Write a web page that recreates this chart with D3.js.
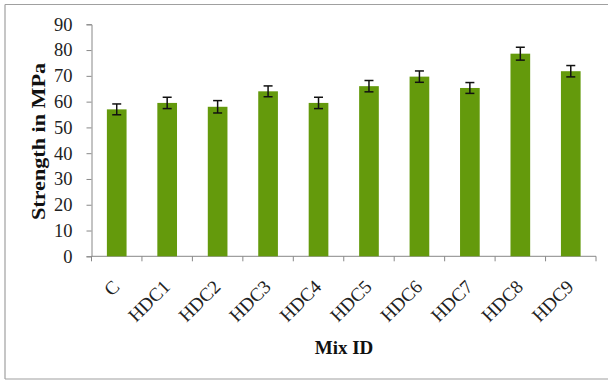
<!DOCTYPE html>
<html>
<head>
<meta charset="utf-8">
<script src="https://cdn.jsdelivr.net/npm/d3@7"></script>
<style>
  html, body { margin: 0; padding: 0; background: #fff; }
  svg { display: block; }
</style>
</head>
<body>
<svg id="chart" width="608" height="380"></svg>
<script>
const categories = ["C", "HDC1", "HDC2", "HDC3", "HDC4", "HDC5", "HDC6", "HDC7", "HDC8", "HDC9"];
const strength = [57, 59.5, 58, 64, 59.5, 66, 69.7, 65.3, 78.6, 71.8];
const errors = [2.1, 2.2, 2.4, 2.1, 2.2, 2.2, 2.2, 2.1, 2.5, 2.2];
const yTicks = [0, 10, 20, 30, 40, 50, 60, 70, 80, 90];
const yTitle = "Strength in MPa";
const xTitle = "Mix ID";

(function () {
const svg = d3.select("#chart");
const font = "'Liberation Serif', 'Times New Roman', serif";

// frame
svg.append("line").attr("x1", 5).attr("x2", 608).attr("y1", 4.5).attr("y2", 4.5)
  .attr("stroke", "#a0a0a0").attr("stroke-width", 1.2);
svg.append("line").attr("x1", 5).attr("x2", 5).attr("y1", 4.5).attr("y2", 379)
  .attr("stroke", "#a0a0a0").attr("stroke-width", 1.2);
svg.append("line").attr("x1", 5).attr("x2", 608).attr("y1", 379).attr("y2", 379)
  .attr("stroke", "#a0a0a0").attr("stroke-width", 1.2);

const pL = 91.5, pR = 596, pT = 24.3, pB = 256.3;
const x = d3.scaleBand().domain(categories).range([pL, pR]).paddingInner(0.61).paddingOuter(0.305);
const y = d3.scaleLinear().domain([0, 90]).range([pB, pT]);

// y axis
const yAxis = svg.append("g").attr("transform", `translate(${pL},0)`)
  .call(d3.axisLeft(y).tickValues(yTicks).tickSize(5).tickPadding(14));
yAxis.select(".domain").attr("stroke", "#888").attr("stroke-width", 1);
yAxis.selectAll(".tick line").attr("stroke", "#888");
yAxis.selectAll("text").attr("font-family", font).attr("font-size", 18.5).attr("fill", "#222");

// x axis line + ticks at boundaries
const xg = svg.append("g");
xg.append("line").attr("x1", pL).attr("x2", pR).attr("y1", pB).attr("y2", pB)
  .attr("stroke", "#888").attr("stroke-width", 1);
const step = x.step();
const bounds = d3.range(categories.length + 1).map(i => pL + i * step);
xg.selectAll("line.tk").data(bounds).join("line").attr("class", "tk")
  .attr("x1", d => d).attr("x2", d => d).attr("y1", pB).attr("y2", pB + 5)
  .attr("stroke", "#888").attr("stroke-width", 1);

// bars
svg.append("g").selectAll("rect").data(categories).join("rect")
  .attr("x", d => x(d))
  .attr("width", x.bandwidth())
  .attr("y", (d, i) => y(strength[i]))
  .attr("height", (d, i) => y(0) - y(strength[i]))
  .attr("fill", "#649a0c");

// error bars
const eg = svg.append("g").attr("stroke", "#111").attr("stroke-width", 1.5);
categories.forEach((c, i) => {
  const cx = x(c) + x.bandwidth() / 2;
  const yt = y(strength[i] + errors[i]), yb = y(strength[i] - errors[i]);
  eg.append("line").attr("x1", cx).attr("x2", cx).attr("y1", yt).attr("y2", yb);
  eg.append("line").attr("x1", cx - 4.5).attr("x2", cx + 4.5).attr("y1", yt).attr("y2", yt);
  eg.append("line").attr("x1", cx - 4.5).attr("x2", cx + 4.5).attr("y1", yb).attr("y2", yb);
});

// x labels
svg.append("g").selectAll("text").data(categories).join("text")
  .attr("transform", d => `translate(${x(d) + x.bandwidth() / 2 + 4},${288}) rotate(-45)`)
  .attr("text-anchor", "end")
  .attr("font-family", font).attr("font-size", 19).attr("fill", "#222")
  .text(d => d);

// titles
svg.append("text").attr("x", 344).attr("y", 354).attr("text-anchor", "middle")
  .attr("font-family", font).attr("font-size", 19).attr("font-weight", "bold").attr("fill", "#111")
  .text(xTitle);
svg.append("text").attr("transform", "translate(45,141.5) rotate(-90)").attr("text-anchor", "middle")
  .attr("font-family", font).attr("font-size", 19).attr("font-weight", "bold").attr("fill", "#111")
  .attr("textLength", 157).attr("lengthAdjust", "spacingAndGlyphs")
  .text(yTitle);
})();
</script>
</body>
</html>
